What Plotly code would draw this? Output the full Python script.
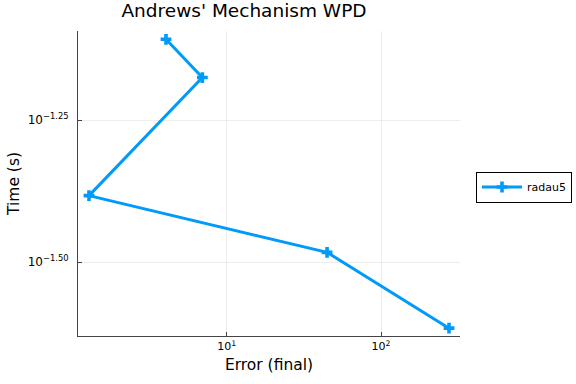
import plotly.graph_objects as go

error_final = [4.04, 6.95, 1.28, 44.7, 276.0]
time_s = [0.0780, 0.0668, 0.0414, 0.0329, 0.0242]
series_name = "radau5"

x_tickvals = [10, 100]
x_ticktext = ["10<sup>1</sup>", "10<sup>2</sup>"]
y_tickvals = [10 ** -1.25, 10 ** -1.5]
y_ticktext = ["10<sup>\u22121.25</sup>", "10<sup>\u22121.50</sup>"]

color = "#009AFA"
font = "DejaVu Sans, Arial, sans-serif"

fig = go.Figure()
fig.add_trace(go.Scatter(
    x=error_final, y=time_s, mode="lines+markers", name=series_name,
    line=dict(color=color, width=3),
    marker=dict(symbol="cross", size=9, color=color, line=dict(width=0)),
))

fig.update_layout(
    width=576, height=384,
    margin=dict(l=78, r=116, t=31, b=48, autoexpand=False),
    paper_bgcolor="white", plot_bgcolor="white",
    font=dict(family=font, color="black"),
    title=dict(text="Andrews' Mechanism WPD", x=244 / 576, xanchor="center",
               y=1 - 11 / 384, yanchor="middle", font=dict(size=18.5)),
    showlegend=True,
    legend=dict(xref="container", yref="container", x=476 / 576, xanchor="left",
                y=1 - 187 / 384, yanchor="middle",
                bordercolor="black", borderwidth=1, bgcolor="white",
                font=dict(size=11), itemwidth=40, tracegroupgap=0),
)
fig.update_xaxes(
    type="log", range=[0.036, 2.512],
    tickvals=x_tickvals, ticktext=x_ticktext, tickfont=dict(size=11),
    showline=True, linecolor="#444", linewidth=1, mirror=False,
    ticks="inside", ticklen=4, tickcolor="#444",
    showgrid=True, gridcolor="rgba(0,0,0,0.07)", gridwidth=1, zeroline=False,
    title=dict(text="Error (final)", font=dict(size=15.5), standoff=6),
)
fig.update_yaxes(
    type="log", range=[-1.630, -1.0933],
    tickvals=y_tickvals, ticktext=y_ticktext, tickfont=dict(size=12),
    showline=True, linecolor="#444", linewidth=1, mirror=False,
    ticks="inside", ticklen=4, tickcolor="#444", ticklabelstandoff=6,
    showgrid=True, gridcolor="rgba(0,0,0,0.07)", gridwidth=1, zeroline=False,
    title=dict(text="Time (s)", font=dict(size=15.5), standoff=4),
)

fig.write_html("out.html")
